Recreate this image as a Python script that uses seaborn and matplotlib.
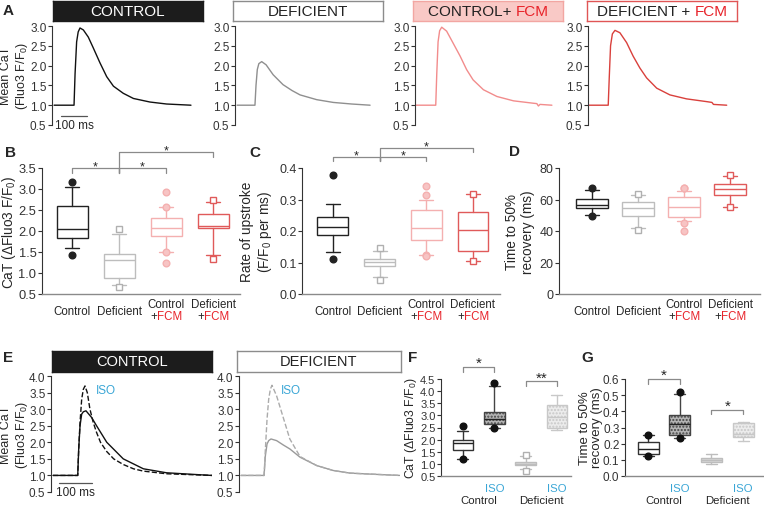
import matplotlib.pyplot as plt
import seaborn as sns

# -----------------------------
# Data
# -----------------------------
# Panel A: mean calcium transients (time ms, F/F0)
A_ctrl_t = [8, 85, 89, 95, 101, 108, 121, 140, 159, 185, 211, 237, 275, 314, 378, 442, 536]
A_ctrl_v = [1.0, 1.0, 1.8, 2.6, 2.85, 2.95, 2.90, 2.72, 2.45, 2.07, 1.72, 1.48, 1.30, 1.17, 1.08, 1.03, 1.0]
A_def_t = [8, 77, 81, 86, 92, 103, 120, 147, 185, 220, 251, 315, 379, 450, 521]
A_def_v = [1.0, 1.0, 1.5, 1.9, 2.05, 2.10, 2.02, 1.77, 1.52, 1.37, 1.26, 1.14, 1.07, 1.03, 1.0]
A_cfcm_t = [0, 80, 84, 89, 95, 103, 122, 146, 174, 199, 224, 264, 316, 380, 456, 470, 476, 482, 528]
A_cfcm_v = [1.0, 1.0, 1.8, 2.6, 2.88, 2.97, 2.87, 2.58, 2.24, 1.90, 1.64, 1.39, 1.22, 1.11, 1.05, 1.04, 0.98, 1.02, 1.0]
A_dfcm_t = [0, 78, 82, 87, 94, 104, 123, 149, 174, 200, 226, 265, 316, 380, 458, 478, 484, 535]
A_dfcm_v = [1.0, 1.0, 1.7, 2.5, 2.8, 2.89, 2.83, 2.58, 2.24, 1.94, 1.69, 1.43, 1.26, 1.16, 1.09, 1.07, 1.02, 1.0]

# Panel E: transients with / without ISO
E_ctrl_t = [6, 81, 84, 88, 93, 98, 106, 123, 138, 169, 219, 280, 350, 451, 488]
E_ctrl_v = [1.0, 1.0, 1.8, 2.5, 2.85, 2.92, 2.95, 2.75, 2.5, 2.0, 1.5, 1.2, 1.08, 1.02, 1.0]
E_ctrl_iso_t = [6, 81, 84, 88, 93, 98, 103, 110, 118, 128, 138, 150, 169, 190, 219, 250, 280, 350, 488]
E_ctrl_iso_v = [1.0, 1.0, 1.8, 2.6, 3.3, 3.6, 3.7, 3.5, 3.0, 2.6, 2.3, 2.0, 1.72, 1.5, 1.33, 1.2, 1.13, 1.05, 1.0]
E_def_t = [6, 76, 80, 85, 90, 97, 114, 134, 154, 185, 235, 285, 336, 420, 487]
E_def_v = [1.0, 1.0, 1.6, 1.95, 2.05, 2.1, 2.05, 1.92, 1.8, 1.55, 1.3, 1.15, 1.07, 1.03, 1.0]
E_def_iso_t = [6, 76, 80, 85, 90, 95, 100, 114, 134, 154, 185, 235, 285, 336, 420, 487]
E_def_iso_v = [1.0, 1.0, 1.8, 2.7, 3.3, 3.6, 3.72, 3.4, 2.75, 2.1, 1.57, 1.3, 1.15, 1.07, 1.03, 1.0]

# Panels B-D: box summaries (Control, Deficient, Control+FCM, Deficient+FCM)
B_whislo = [1.60, 0.72, 1.50, 1.43]
B_q1 = [1.83, 0.87, 1.89, 2.07]
B_med = [2.05, 1.31, 2.07, 2.11]
B_q3 = [2.59, 1.46, 2.31, 2.41]
B_whishi = [3.05, 1.94, 2.57, 2.69]
B_fliers = [[3.16, 1.44], [2.05, 0.67], [2.94, 2.58, 1.50, 1.23], [2.75, 1.33]]

C_whislo = [0.134, 0.055, 0.125, 0.106]
C_q1 = [0.188, 0.090, 0.171, 0.137]
C_med = [0.212, 0.101, 0.210, 0.204]
C_q3 = [0.243, 0.110, 0.267, 0.260]
C_whishi = [0.285, 0.135, 0.300, 0.317]
C_fliers = [[0.377, 0.111], [0.147, 0.045], [0.343, 0.313, 0.124, 0.120], [0.317, 0.106]]

D_whislo = [50.2, 41.9, 46.2, 55.1]
D_q1 = [54.5, 49.8, 49.1, 63.0]
D_med = [56.6, 54.5, 55.1, 66.8]
D_q3 = [60.6, 58.3, 61.5, 70.0]
D_whishi = [66.2, 62.6, 65.3, 74.9]
D_fliers = [[67.2, 49.4], [63.6, 40.9], [67.4, 67.4, 45.1, 40.2], [75.3, 55.1]]

# Panels F-G: (Control, Control ISO, Deficient, Deficient ISO)
F_whislo = [1.22, 2.47, 0.78, 2.38]
F_q1 = [1.57, 2.65, 0.95, 2.47]
F_med = [1.86, 2.85, 1.00, 2.92]
F_q3 = [2.00, 3.12, 1.06, 3.41]
F_whishi = [2.37, 4.23, 1.33, 3.82]
F_fliers = [[2.58, 1.22], [4.32, 2.47], [1.38, 0.70], []]

G_whislo = [0.124, 0.238, 0.072, 0.219]
G_q1 = [0.138, 0.252, 0.087, 0.242]
G_med = [0.165, 0.320, 0.101, 0.262]
G_q3 = [0.211, 0.376, 0.111, 0.325]
G_whishi = [0.252, 0.507, 0.134, 0.335]
G_fliers = [[0.252, 0.124], [0.517, 0.238], [], []]

# -----------------------------
# Style
# -----------------------------
sns.set_style("ticks")
plt.rcParams['font.family'] = ['Liberation Sans', 'DejaVu Sans']
plt.rcParams['mathtext.fontset'] = 'custom'
plt.rcParams['mathtext.rm'] = 'Liberation Sans'
plt.rcParams['mathtext.default'] = 'regular'

RED = '#e8232a'
BLUE = '#3aa6d6'
AX = '#333333'

W, H = 764, 506
fig = plt.figure(figsize=(W / 100, H / 100), dpi=100)


def px_axes(x0, y0, x1, y1):
    return fig.add_axes([x0 / W, 1 - y1 / H, (x1 - x0) / W, (y1 - y0) / H])


def header(box, face, edge, parts, x_start=None, fs=11):
    hax = px_axes(*box)
    hax.set_xticks([])
    hax.set_yticks([])
    hax.set_facecolor(face)
    for s in hax.spines.values():
        s.set_color(edge)
        s.set_linewidth(1)
    if len(parts) == 1:
        hax.text(0.5, 0.5, parts[0][0], color=parts[0][1], ha='center', va='center',
                 fontsize=fs, transform=hax.transAxes)
    else:
        t = hax.text(x_start, 0.5, parts[0][0], color=parts[0][1], ha='left', va='center',
                     fontsize=fs, transform=hax.transAxes)
        hax.annotate(parts[1][0], xy=(1, 0), xycoords=t, ha='left', va='bottom',
                     color=parts[1][1], fontsize=fs)


def trace_axes(box, tmax, ylim, yticks, fs=8.5):
    ax = px_axes(*box)
    ax.set_facecolor('none')
    ax.set_xlim(0, tmax)
    ax.set_ylim(*ylim)
    ax.set_yticks(yticks)
    ax.set_xticks([])
    for s in ['top', 'right', 'bottom']:
        ax.spines[s].set_visible(False)
    ax.spines['left'].set_color(AX)
    ax.spines['left'].set_linewidth(0.8)
    ax.tick_params(axis='y', labelsize=fs, length=3, width=0.8, colors=AX, pad=1)
    ax.yaxis.set_major_formatter('{x:.1f}')
    return ax


def line(ax, t, v, color, ls='-'):
    sns.lineplot(x=t, y=v, ax=ax, color=color, linewidth=1.0, estimator=None,
                 sort=False, linestyle=ls)


def scalebar(ax, t0, y, label_y):
    ax.plot([t0, t0 + 100], [y, y], color='#555555', lw=0.9, clip_on=False)
    ax.text(t0 + 50, label_y, '100 ms', ha='center', va='center', fontsize=8.5, clip_on=False)


def box_axes(box, xlim, ylim, yticks, fmt, fs):
    ax = px_axes(*box)
    ax.set_facecolor('none')
    ax.set_xlim(*xlim)
    ax.set_ylim(*ylim)
    ax.set_yticks(yticks)
    ax.set_xticks([])
    for s in ['top', 'right']:
        ax.spines[s].set_visible(False)
    ax.spines['left'].set_color(AX)
    ax.spines['left'].set_linewidth(0.8)
    ax.spines['bottom'].set_color('#8a8a8a')
    ax.spines['bottom'].set_linewidth(1.0)
    ax.tick_params(axis='y', labelsize=fs, length=3, width=0.8, colors=AX, pad=1)
    ax.yaxis.set_major_formatter(fmt)
    return ax


def draw_boxes(ax, whislo, q1, med, q3, whishi, fliers, styles, width, capw):
    for i, st in enumerate(styles):
        stats = [dict(whislo=whislo[i], q1=q1[i], med=med[i], q3=q3[i],
                      whishi=whishi[i], fliers=fliers[i])]
        ax.bxp(stats, positions=[i], widths=width, capwidths=capw, patch_artist=True,
               manage_ticks=False,
               boxprops=dict(facecolor=st['face'], edgecolor=st['edge'], linewidth=1.0,
                             hatch=st.get('hatch')),
               medianprops=dict(color=st['med'], linewidth=1.0),
               whiskerprops=dict(color=st['edge'], linewidth=1.0),
               capprops=dict(color=st['edge'], linewidth=1.0),
               flierprops=dict(marker=st['marker'], markerfacecolor=st['mface'],
                               markeredgecolor=st['mecol'], markersize=4.8,
                               markeredgewidth=1.0, linestyle='none'))
    ax.set_xticks([])


def bracket(ax, x0, x1, y, yl, yr, text, fs, dy):
    ax.plot([x0, x0, x1, x1], [yl, y, y, yr], color='#8a8a8a', lw=0.9, clip_on=False)
    ax.annotate(text, xy=((x0 + x1) / 2, y), xytext=(0, dy), textcoords='offset points',
                ha='center', va='baseline', fontsize=fs, annotation_clip=False)


def group_labels(ax, fs=8.3):
    ax.annotate('Control', xy=(0, 0), xycoords=('data', 'axes fraction'), xytext=(0, -12.2),
                textcoords='offset points', ha='center', va='center', fontsize=fs)
    ax.annotate('Deficient', xy=(1, 0), xycoords=('data', 'axes fraction'), xytext=(0, -12.2),
                textcoords='offset points', ha='center', va='center', fontsize=fs)
    for i, name in [(2, 'Control'), (3, 'Deficient')]:
        ax.annotate(name, xy=(i, 0), xycoords=('data', 'axes fraction'), xytext=(0, -7.2),
                    textcoords='offset points', ha='center', va='center', fontsize=fs)
        p = ax.annotate('+', xy=(i, 0), xycoords=('data', 'axes fraction'), xytext=(-11.5, -16.2),
                        textcoords='offset points', ha='left', va='center', fontsize=fs)
        ax.annotate('FCM', xy=(1, 0), xycoords=p, ha='left', va='bottom', fontsize=fs, color=RED)


def iso_labels(ax, fs=8.2):
    for i in [1, 3]:
        ax.annotate('ISO', xy=(i, 0), xycoords=('data', 'axes fraction'), xytext=(0, -8.3),
                    textcoords='offset points', ha='center', va='center', fontsize=fs, color=BLUE)
    for x, name in [(0.5, 'Control'), (2.5, 'Deficient')]:
        ax.annotate(name, xy=(x, 0), xycoords=('data', 'axes fraction'), xytext=(0, -17),
                    textcoords='offset points', ha='center', va='center', fontsize=fs)


# -----------------------------
# Panel A
# -----------------------------
header((53, 2, 203, 22), '#1c1c1c', '#1c1c1c', [('CONTROL', 'white')])
header((233, 2, 383, 22), 'white', '#8c8c8c', [('DEFICIENT', '#222222')])
header((413, 2, 563, 22), '#f9c9c6', '#f2a6a2', [('CONTROL+ ', '#222222'), ('FCM', RED)], x_start=0.10)
header((587, 2, 737, 22), 'white', '#e05555', [('DEFICIENT + ', '#222222'), ('FCM', RED)], x_start=0.065)

a_ticks = [0.5, 1.0, 1.5, 2.0, 2.5, 3.0]
axA1 = trace_axes((52, 27, 192, 126), 540, (0.5, 3.0), a_ticks)
line(axA1, A_ctrl_t, A_ctrl_v, '#111111')
scalebar(axA1, 35, 0.73, 0.5)
axA2 = trace_axes((235, 27, 375, 126), 540, (0.5, 3.0), a_ticks)
line(axA2, A_def_t, A_def_v, '#8f8f8f')
axA3 = trace_axes((415, 27, 555, 126), 540, (0.5, 3.0), a_ticks)
line(axA3, A_cfcm_t, A_cfcm_v, '#f28c8c')
axA4 = trace_axes((588, 27, 728, 126), 540, (0.5, 3.0), a_ticks)
line(axA4, A_dfcm_t, A_dfcm_v, '#d9403c')

fig.text(15 / W, 1 - 76 / H, 'Mean CaT\n(Fluo3 F/F$_0$)', rotation=90, ha='center', va='center',
         fontsize=9, multialignment='center', linespacing=1.1)

# -----------------------------
# Panels B, C, D
# -----------------------------
styles4 = [
    dict(face='white', edge='#222222', med='#222222', marker='o', mface='#222222', mecol='#222222'),
    dict(face='white', edge='#bdbdbd', med='#bdbdbd', marker='s', mface='white', mecol='#b0b0b0'),
    dict(face='white', edge='#f4b0b0', med='#f4b0b0', marker='o', mface='#f7c4c4', mecol='#f4b0b0'),
    dict(face='white', edge='#e05a5a', med='#e05a5a', marker='s', mface='white', mecol='#e05a5a'),
]

axB = box_axes((42, 169, 240, 295), (-0.64, 3.57), (0.5, 3.5),
               [0.5, 1.0, 1.5, 2.0, 2.5, 3.0, 3.5], '{x:.1f}', 9.3)
draw_boxes(axB, B_whislo, B_q1, B_med, B_q3, B_whishi, B_fliers, styles4, 0.66, 0.3)
bracket(axB, 0, 1, 3.5, 3.38, 3.38, '*', 9, -1)
bracket(axB, 1, 2, 3.5, 3.38, 3.38, '*', 9, -1)
bracket(axB, 1, 3, 3.89, 3.38, 3.76, '*', 9, -1)
group_labels(axB)
fig.text(9 / W, 1 - 232 / H, 'CaT (ΔFluo3 F/F$_0$)', rotation=90, ha='center', va='center', fontsize=9.8)

axC = box_axes((302, 169, 500, 295), (-0.66, 3.58), (0.0, 0.4),
               [0.0, 0.1, 0.2, 0.3, 0.4], '{x:.1f}', 9)
draw_boxes(axC, C_whislo, C_q1, C_med, C_q3, C_whishi, C_fliers, styles4, 0.66, 0.3)
bracket(axC, 0, 1, 0.436, 0.423, 0.423, '*', 9, -1)
bracket(axC, 1, 2, 0.436, 0.423, 0.423, '*', 9, -1)
bracket(axC, 1, 3, 0.463, 0.423, 0.450, '*', 9, -1)
group_labels(axC)
fig.text(257 / W, 1 - 232 / H, 'Rate of upstroke\n(F/F$_0$ per ms)', rotation=90, ha='center',
         va='center', fontsize=9.8, multialignment='center', linespacing=1.1)

axD = box_axes((559, 169, 760, 295), (-0.72, 3.65), (0, 80),
               [0, 20, 40, 60, 80], '{x:.0f}', 9)
draw_boxes(axD, D_whislo, D_q1, D_med, D_q3, D_whishi, D_fliers, styles4, 0.69, 0.3)
group_labels(axD)
fig.text(520 / W, 1 - 232 / H, 'Time to 50%\nrecovery (ms)', rotation=90, ha='center',
         va='center', fontsize=9.8, multialignment='center', linespacing=1.1)

# -----------------------------
# Panel E
# -----------------------------
header((52, 352, 212, 373), '#1c1c1c', '#1c1c1c', [('CONTROL', 'white')], fs=10.5)
header((237, 352, 401, 373), 'white', '#8c8c8c', [('DEFICIENT', '#222222')], fs=10.5)

e_ticks = [0.5, 1.0, 1.5, 2.0, 2.5, 3.0, 3.5, 4.0]
axE1 = trace_axes((51, 377, 212, 493), 488, (0.5, 4.0), e_ticks)
line(axE1, E_ctrl_t, E_ctrl_v, '#111111')
line(axE1, E_ctrl_iso_t, E_ctrl_iso_v, '#111111', ls='--')
axE1.text(167, 3.58, 'ISO', color=BLUE, fontsize=8.5, ha='center', va='center')
scalebar(axE1, 24, 0.77, 0.5)

axE2 = trace_axes((239, 377, 400, 493), 488, (0.5, 4.0), e_ticks)
line(axE2, E_def_t, E_def_v, '#9a9a9a')
line(axE2, E_def_iso_t, E_def_iso_v, '#ababab', ls='--')
axE2.text(158, 3.58, 'ISO', color=BLUE, fontsize=8.5, ha='center', va='center')

fig.text(15 / W, 1 - 435 / H, 'Mean CaT\n(Fluo3 F/F$_0$)', rotation=90, ha='center', va='center',
         fontsize=9, multialignment='center', linespacing=1.1)

# -----------------------------
# Panels F, G
# -----------------------------
styles_iso = [
    dict(face='white', edge='#333333', med='#222222', marker='o', mface='#111111', mecol='#111111'),
    dict(face='#b4b4b4', edge='#444444', med='#222222', marker='o', mface='#111111', mecol='#111111',
         hatch='.....'),
    dict(face='#d9d9d9', edge='#bdbdbd', med='#bdbdbd', marker='s', mface='white', mecol='#b0b0b0'),
    dict(face='#ececec', edge='#c8c8c8', med='#c8c8c8', marker='s', mface='white', mecol='#c8c8c8',
         hatch='.....'),
]

axF = box_axes((441, 380, 571, 477), (-0.70, 3.45), (0.5, 4.5),
               [0.5, 1.0, 1.5, 2.0, 2.5, 3.0, 3.5, 4.0, 4.5], '{x:.1f}', 8)
draw_boxes(axF, F_whislo, F_q1, F_med, F_q3, F_whishi, F_fliers, styles_iso, 0.66, 0.35)
bracket(axF, 0, 1, 5.0, 4.77, 4.77, '*', 11, 0)
bracket(axF, 2, 3, 4.4, 4.2, 4.2, '**', 11, 0)
iso_labels(axF)
fig.text(411 / W, 1 - 428 / H, 'CaT (ΔFluo3 F/F$_0$)', rotation=90, ha='center', va='center', fontsize=8.8)

axG = box_axes((625, 380, 763, 477), (-0.73, 3.63), (0.0, 0.6),
               [0.0, 0.1, 0.2, 0.3, 0.4, 0.5, 0.6], '{x:.1f}', 8.5)
draw_boxes(axG, G_whislo, G_q1, G_med, G_q3, G_whishi, G_fliers, styles_iso, 0.66, 0.35)
bracket(axG, 0, 1, 0.6, 0.569, 0.569, '*', 11, 0)
bracket(axG, 2, 3, 0.41, 0.383, 0.383, '*', 11, 0)
iso_labels(axG)
fig.text(591 / W, 1 - 428 / H, 'Time to 50%\nrecovery (ms)', rotation=90, ha='center',
         va='center', fontsize=9.5, multialignment='center', linespacing=1.1)

# -----------------------------
# Panel letters
# -----------------------------
for letter, x, y in [('A', 8, 11), ('B', 10, 153), ('C', 255, 153), ('D', 515, 152),
                     ('E', 8, 358), ('F', 413, 358), ('G', 587, 358)]:
    fig.text(x / W, 1 - y / H, letter, fontsize=11, fontweight='bold', ha='center', va='center')

fig.savefig("out.png", dpi=100)
